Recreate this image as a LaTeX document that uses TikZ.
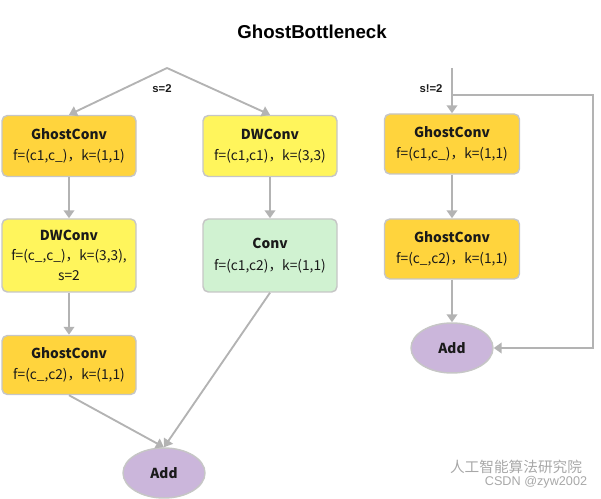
\documentclass[tikz,border=0pt]{standalone}
\usepackage{fontspec}
\usepackage{tikz}
\usetikzlibrary{arrows.meta,shapes.geometric}
\setmainfont{Liberation Sans}
\newfontfamily\cjk{Noto Sans CJK SC}
\definecolor{gold}{HTML}{FFD43D}
\definecolor{lemon}{HTML}{FFF55C}
\definecolor{mint}{HTML}{D0F2D1}
\definecolor{lilac}{HTML}{CBB6DB}
\definecolor{rim}{HTML}{C6C6C6}
\definecolor{wire}{HTML}{B3B3B3}
\definecolor{ink}{HTML}{1A1A1A}
\definecolor{mark}{HTML}{A8A8A8}

\begin{document}
\begin{tikzpicture}[x=0.75pt, y=-0.75pt,
    block/.style={draw=rim, line width=1.1pt, rounded corners=4pt,
      minimum width=100.5pt, align=center, text=ink,
      font=\cjk\fontsize{10.3}{16}\selectfont},
    sum/.style={ellipse, draw=rim, line width=1.1pt, fill=lilac,
      minimum width=61.5pt, minimum height=37.5pt, inner sep=0pt,
      text=ink, font=\cjk\fontsize{10.3}{12}\selectfont\bfseries},
    flow/.style={wire, line width=1.4pt, -{Triangle[width=8pt,length=6pt]}},
    tag/.style={text=ink, font=\fontsize{8.5}{10}\selectfont\bfseries}]
  \useasboundingbox (0,0) rectangle (601,499);
  \node[font=\fontsize{14}{17}\selectfont\bfseries] (title) at (312,32) {GhostBottleneck};
  % s=2 branch
  \coordinate (split) at (167,68);
  \node[block, fill=gold, minimum height=45.75pt] (ghostA) at (69,146)
    {\textbf{GhostConv}\\f=(c1,c\_)，k=(1,1)};
  \node[block, fill=lemon, minimum height=45.75pt] (dwB) at (270,146)
    {\textbf{DWConv}\\f=(c1,c1)，k=(3,3)};
  \node[block, fill=lemon, minimum height=54.75pt, font=\cjk\fontsize{10.3}{14.8}\selectfont] (dwA) at (69,255.5)
    {\textbf{DWConv}\\f=(c\_,c\_)，k=(3,3),\\s=2};
  \node[block, fill=mint, minimum height=54.75pt] (convB) at (270,255.5)
    {\textbf{Conv}\\f=(c1,c2)，k=(1,1)};
  \node[block, fill=gold, minimum height=44.25pt] (ghostC) at (69,365)
    {\textbf{GhostConv}\\f=(c\_,c2)，k=(1,1)};
  \node[sum] (addA) at (164,473) {Add};
  \node[tag] (tagA) at (162,89) {s=2};
  \draw[flow] (split) -- (ghostA.north);
  \draw[flow] (split) -- (dwB.north);
  \draw[flow] (ghostA) -- (dwA);
  \draw[flow] (dwA) -- (ghostC);
  \draw[flow] (dwB) -- (convB);
  \draw[flow] (ghostC.south) -- (addA.north);
  \draw[flow] (convB.south) -- (addA.north);
  % s!=2 branch
  \coordinate (rtop) at (452,68);
  \coordinate (rsplit) at (452,95);
  \coordinate (rside) at (593,95);
  \node[block, fill=gold, minimum width=101.25pt, minimum height=45pt] (ghostD) at (452,144)
    {\textbf{GhostConv}\\f=(c1,c\_)，k=(1,1)};
  \node[block, fill=gold, minimum width=101.25pt, minimum height=45pt] (ghostE) at (452,249)
    {\textbf{GhostConv}\\f=(c\_,c2)，k=(1,1)};
  \node[sum] (addB) at (452,348) {Add};
  \node[tag] (tagB) at (431,89) {s!=2};
  \draw[flow] (rtop) -- (ghostD.north);
  \draw[flow] (ghostD) -- (ghostE);
  \draw[flow] (ghostE) -- (addB);
  \draw[flow] (rsplit) -- (rside) |- (addB.east);
  % watermark
  \node[text=mark, font=\cjk\fontsize{11}{13}\selectfont] (markA) at (516,467) {人工智能算法研究院};
  \node[text=mark, font=\fontsize{9.5}{11}\selectfont] (markB) at (536,482) {CSDN @zyw2002};
\end{tikzpicture}
\end{document}
